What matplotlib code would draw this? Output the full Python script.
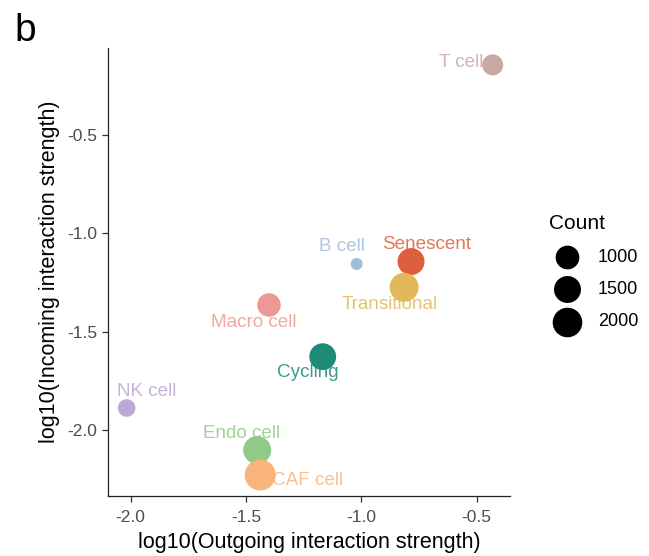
import numpy as np
import matplotlib.pyplot as plt

plt.rcParams['font.family'] = ['Liberation Sans', 'DejaVu Sans']

# datos de la figura
cells = ["T cell", "B cell", "Senescent", "Transitional", "Macro cell",
         "Cycling", "NK cell", "Endo cell", "CAF cell"]
outgoing = [-0.430, -1.020, -0.784, -0.814, -1.400, -1.167, -2.017, -1.451, -1.438]
incoming = [-0.142, -1.155, -1.143, -1.274, -1.364, -1.627, -1.888, -2.102, -2.229]
count = [670, 200, 1510, 1880, 970, 1480, 380, 1690, 2300]
colores = ["#C8A8A4", "#9FBCDA", "#DE5F3E", "#E2B95A", "#EE9893",
           "#1E8A78", "#BDA6D8", "#8FCB86", "#F8B47B"]

legend_counts = [1000, 1500, 2000]

# desplazamiento de cada etiqueta (pixeles) respecto a su punto
offsets = [(-31, 2), (-15, 17), (16, 17), (-14, -17), (-15, -17),
           (-15, -16), (20, 16), (-16, 17), (47, -6)]


def tam(c):
    # escala de area tipo ggplot: diametro en pixeles -> s en pt^2
    d = 12 + 19 * np.sqrt((np.asarray(c, float) - 200) / 2100)
    return (d * 0.72) ** 2


fig = plt.figure(figsize=(6.49, 5.56), dpi=100)
ax = fig.add_axes([0.1664, 0.1079, 0.6194, 0.8058])

ax.scatter(outgoing, incoming, s=tam(count), c=colores, linewidths=0, zorder=3)

for i in range(len(cells)):
    ax.annotate(cells[i], (outgoing[i], incoming[i]), xytext=offsets[i],
                textcoords='offset pixels', ha='center', va='center',
                fontsize=13.6, color=colores[i], alpha=0.85, zorder=4)

ax.set_xlim(-2.098, -0.355)
ax.set_ylim(-2.336, -0.056)
ax.set_xticks([-2.0, -1.5, -1.0, -0.5])
ax.set_yticks([-2.0, -1.5, -1.0, -0.5])
ax.set_xticklabels(["-2.0", "-1.5", "-1.0", "-0.5"])
ax.set_yticklabels(["-2.0", "-1.5", "-1.0", "-0.5"])

for lado in ['top', 'right']:
    ax.spines[lado].set_visible(False)
for lado in ['left', 'bottom']:
    ax.spines[lado].set_linewidth(0.9)
    ax.spines[lado].set_color('#222222')

ax.tick_params(direction='out', length=4, width=0.9, color='#333333',
               labelcolor='#4D4D4D', labelsize=12.5, pad=4)
ax.tick_params(axis='x', pad=6)

ax.set_xlabel("log10(Outgoing interaction strength)", fontsize=15.5, labelpad=5)
ax.set_ylabel("log10(Incoming interaction strength)", fontsize=15.5, labelpad=5)

# leyenda de tamanos
handles = [ax.scatter([], [], s=tam(c), c='black', linewidths=0) for c in legend_counts]
leg = ax.legend(handles, [str(c) for c in legend_counts], title="Count",
                loc='upper left', bbox_to_anchor=(1.08, 0.645), frameon=False,
                fontsize=13, title_fontsize=15, labelspacing=0.85,
                handletextpad=0.7, borderaxespad=0)
leg._legend_box.align = "left"

fig.text(0.023, 0.977, "b", fontsize=28, va='top', ha='left')

plt.savefig("out.png", dpi=100)
